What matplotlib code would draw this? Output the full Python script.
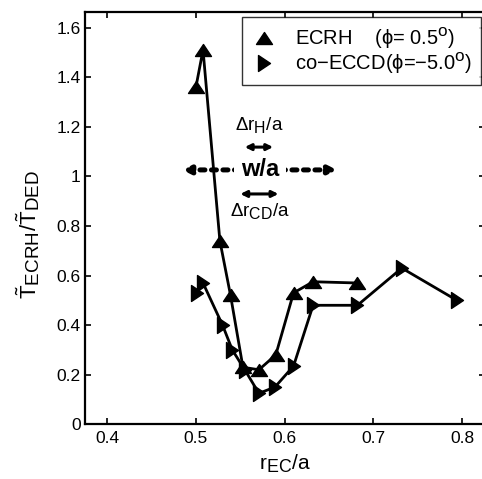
import matplotlib
matplotlib.use('Agg')
import matplotlib.pyplot as plt
import matplotlib._mathtext as mathtext_internal
from matplotlib.lines import Line2D
from matplotlib.path import Path

plt.rcParams['font.family'] = ['Liberation Sans', 'DejaVu Sans']
plt.rcParams['mathtext.fontset'] = 'custom'
plt.rcParams['mathtext.rm'] = 'Liberation Sans'
plt.rcParams['mathtext.it'] = 'Liberation Sans'
plt.rcParams['mathtext.default'] = 'regular'
# larger subscripts, closer to the usual TeX-interpreter look
mathtext_internal.SHRINK_FACTOR = 0.85

# ECRH scan (phi = 0.5 deg)
r_ecrh = [0.500, 0.508, 0.527, 0.539, 0.553, 0.571, 0.590, 0.610, 0.632, 0.681]
t_ecrh = [1.36, 1.51, 0.74, 0.52, 0.23, 0.22, 0.28, 0.53, 0.575, 0.57]

# co-ECCD scan (phi = -5.0 deg)
r_eccd = [0.501, 0.508, 0.530, 0.541, 0.555, 0.571, 0.589, 0.610, 0.632, 0.682, 0.732, 0.794]
t_eccd = [0.53, 0.57, 0.40, 0.30, 0.22, 0.125, 0.15, 0.235, 0.48, 0.48, 0.63, 0.50]

xticks = [0.4, 0.5, 0.6, 0.7, 0.8]
yticks = [0, 0.2, 0.4, 0.6, 0.8, 1.0, 1.2, 1.4, 1.6]
ytick_labels = ['0', '0.2', '0.4', '0.6', '0.8', '1', '1.2', '1.4', '1.6']

# flat triangles (wider than tall)
tri_up = Path([(0, 0.75), (-1, -0.75), (1, -0.75), (0, 0.75)], closed=True)
tri_right = Path([(0.75, 0), (-0.75, 1), (-0.75, -1), (0.75, 0)], closed=True)
ms = 11.5

fig = plt.figure(figsize=(4.82, 4.79), dpi=100)
ax = fig.add_axes([0.1763, 0.1142, 0.8299, 0.8608])

ax.plot(r_ecrh, t_ecrh, '-', marker=tri_up, color='k', lw=2, ms=ms)
ax.plot(r_eccd, t_eccd, '-', marker=tri_right, color='k', lw=2, ms=ms)

ax.set_xlim(0.375, 0.8257)
ax.set_ylim(0, 1.663)
ax.set_xticks(xticks)
ax.set_xticklabels([str(v) for v in xticks])
ax.set_yticks(yticks)
ax.set_yticklabels(ytick_labels)
ax.tick_params(direction='in', length=4, width=1.2, top=True, right=True,
               labelsize=12.5)
ax.tick_params(axis='y', pad=3)
ax.tick_params(axis='x', pad=5)
for sp in ax.spines.values():
    sp.set_linewidth(1.6)

ax.set_xlabel(r'$r_{EC}/a$', fontsize=15, labelpad=5)
ax.set_ylabel(r'$\tilde{T}_{ECRH}/\tilde{T}_{DED}$', fontsize=16)
ax.yaxis.set_label_coords(-0.108, 0.46)

# widths of heating, current drive and island
arrow = dict(arrowstyle='<|-|>', color='k', lw=2.2, mutation_scale=9,
             shrinkA=0, shrinkB=0)
ax.annotate('', xy=(0.555, 1.118), xytext=(0.587, 1.118), arrowprops=arrow)
ax.annotate('', xy=(0.550, 0.929), xytext=(0.593, 0.929), arrowprops=arrow)
ax.text(0.572, 1.207, r'$\Delta r_H/a$', fontsize=13.5, ha='center', va='center')
ax.text(0.572, 0.860, r'$\Delta r_{CD}/a$', fontsize=13.5, ha='center', va='center')

ax.annotate('', xy=(0.4845, 1.026), xytext=(0.659, 1.026),
            arrowprops=dict(arrowstyle='<|-|>', color='k', lw=3.6,
                            ls=(0, (1, 1.3)), mutation_scale=11,
                            shrinkA=0, shrinkB=0))
ax.text(0.572, 1.026, 'w/a', fontsize=17, fontweight='bold', ha='center', va='center',
        bbox=dict(facecolor='white', edgecolor='none', pad=5))

handles = [Line2D([], [], color='k', marker=tri_up, ls='none', ms=ms),
           Line2D([], [], color='k', marker=tri_right, ls='none', ms=ms)]
labels = [r'ECRH    ($\phi$= 0.5$^o$)', r'co$-$ECCD($\phi$=$-$5.0$^o$)']
leg = ax.legend(handles, labels, loc='upper right', bbox_to_anchor=(0.991, 0.988),
                borderaxespad=0, fontsize=14.5, frameon=True, fancybox=False,
                handlelength=1.3, handletextpad=0.9, labelspacing=0.0,
                borderpad=0.45)
leg.get_frame().set_edgecolor('k')
leg.get_frame().set_linewidth(1.0)

fig.savefig('out.png', dpi=100)
